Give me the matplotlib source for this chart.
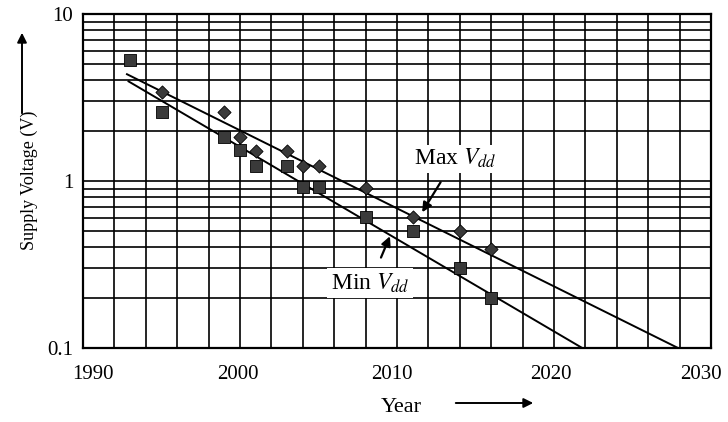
import numpy as np
import matplotlib
matplotlib.use("Agg")
import matplotlib.pyplot as plt
import matplotlib.transforms as mtransforms
from matplotlib.ticker import LogLocator, FixedLocator, NullFormatter

plt.rcParams['font.family'] = ['Liberation Serif', 'DejaVu Serif']
plt.rcParams['mathtext.fontset'] = 'stix'

# data
max_years = [1995, 1999, 2000, 2001, 2003, 2004, 2005, 2008, 2011, 2014, 2016]
max_vdd = [3.4, 2.6, 1.84, 1.52, 1.52, 1.23, 1.23, 0.91, 0.61, 0.5, 0.39]
min_years = [1993, 1995, 1999, 2000, 2001, 2003, 2004, 2005, 2008, 2011, 2014, 2016]
min_vdd = [5.3, 2.6, 1.84, 1.54, 1.23, 1.23, 0.92, 0.92, 0.61, 0.5, 0.3, 0.2]

# trend lines (end points)
max_trend_years = [1992.8, 2027.9]
max_trend_vdd = [4.36, 0.1]
min_trend_years = [1992.9, 2021.8]
min_trend_vdd = [3.95, 0.1]

year_ticks = [1990, 2000, 2010, 2020, 2030]
year_labels = ['1990', '2000', '2010', '2020', '2030']

dpi = 100
fig = plt.figure(figsize=(728 / dpi, 422 / dpi), dpi=dpi)
ax = fig.add_axes([83 / 728, 1 - 348 / 422, 628 / 728, 334 / 422])

ax.set_yscale('log')
ax.set_xlim(1990, 2030)
ax.set_ylim(0.1, 10)

ax.xaxis.set_major_locator(FixedLocator(year_ticks))
ax.xaxis.set_minor_locator(FixedLocator(np.arange(1990, 2031, 2)))
ax.yaxis.set_major_locator(FixedLocator([0.1, 1, 10]))
ax.yaxis.set_minor_locator(LogLocator(base=10, subs=np.arange(2, 10)))
ax.yaxis.set_minor_formatter(NullFormatter())
ax.set_yticklabels(['0.1', '1', '10'])
ax.set_xticklabels(year_labels)

ax.grid(True, which='both', color='black', lw=1.2, zorder=0)
ax.tick_params(which='both', length=0, labelsize=15)
ax.tick_params(axis='x', pad=12)
ax.tick_params(axis='y', pad=7)
for s in ax.spines.values():
    s.set_linewidth(1.6)
    s.set_color('black')

# the year labels in the original sit a little off their grid lines
shifts = [10, -2, -5, -3, -10]
for lab, dx in zip(ax.get_xticklabels(), shifts):
    lab.set_transform(lab.get_transform() +
                      mtransforms.ScaledTranslation(dx / dpi, 0, fig.dpi_scale_trans))

ax.plot(max_trend_years, max_trend_vdd, color='black', lw=1.4, zorder=2)
ax.plot(min_trend_years, min_trend_vdd, color='black', lw=1.4, zorder=2)
ax.scatter(max_years, max_vdd, marker='D', s=45, color='#3a3a3a',
           edgecolors='black', linewidths=0.6, zorder=3)
ax.scatter(min_years, min_vdd, marker='s', s=75, color='#3a3a3a',
           edgecolors='black', linewidths=0.6, zorder=3)

ax.annotate(r'Max $V_{dd}$', xy=(2011.6, 0.65), xytext=(2013.7, 1.36),
            ha='center', va='center', fontsize=17,
            bbox=dict(boxstyle='square,pad=0.1', fc='white', ec='none'),
            arrowprops=dict(arrowstyle='-|>', color='black', lw=1.6,
                            shrinkA=8, shrinkB=0, mutation_scale=14),
            zorder=4)
ax.annotate(r'Min $V_{dd}$', xy=(2009.55, 0.467), xytext=(2008.3, 0.245),
            ha='center', va='center', fontsize=17,
            bbox=dict(boxstyle='square,pad=0.15', fc='white', ec='none'),
            arrowprops=dict(arrowstyle='-|>', color='black', lw=1.6,
                            shrinkA=8, shrinkB=0, mutation_scale=14),
            zorder=4)

# axis titles with arrows
fig.text(401 / 728, 1 - 407 / 422, 'Year', ha='center', va='center', fontsize=16)
fig.add_artist(matplotlib.patches.FancyArrowPatch(
    (453 / 728, 1 - 403 / 422), (536 / 728, 1 - 403 / 422),
    transform=fig.transFigure, arrowstyle='-|>', mutation_scale=14,
    color='black', lw=1.4))
fig.text(29 / 728, 1 - 180 / 422, 'Supply Voltage (V)', ha='center', va='center',
         rotation=90, fontsize=13)
fig.add_artist(matplotlib.patches.FancyArrowPatch(
    (22 / 728, 1 - 116 / 422), (22 / 728, 1 - 30 / 422),
    transform=fig.transFigure, arrowstyle='-|>', mutation_scale=14,
    color='black', lw=1.4))

fig.savefig('out.png', dpi=dpi)
